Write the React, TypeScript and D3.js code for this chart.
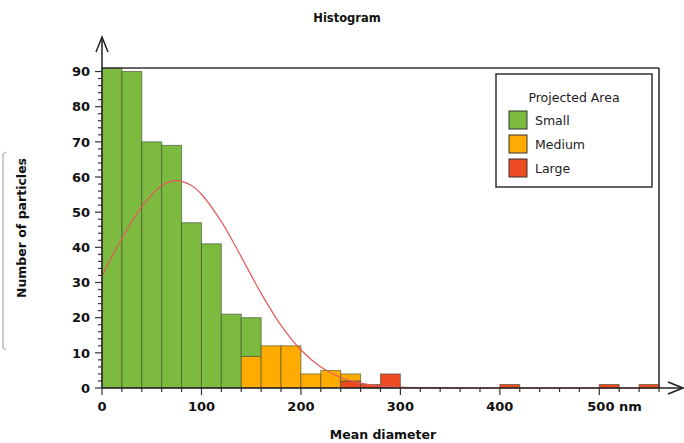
import { useEffect, useRef } from "react";
import * as d3 from "d3";

// bins of 20 nm, start values
const BIN_STARTS = d3.range(0, 560, 20);
const SMALL  = [91, 90, 70, 69, 47, 41, 21, 11, 0, 0, 0, 0, 0, 0, 0, 0, 0, 0, 0, 0, 0, 0, 0, 0, 0, 0, 0, 0];
const MEDIUM = [0, 0, 0, 0, 0, 0, 0, 9, 12, 12, 4, 5, 2, 0, 0, 0, 0, 0, 0, 0, 0, 0, 0, 0, 0, 0, 0, 0];
const LARGE  = [0, 0, 0, 0, 0, 0, 0, 0, 0, 0, 0, 0, 2, 1, 4, 0, 0, 0, 0, 0, 1, 0, 0, 0, 0, 1, 0, 1];

// fitted curve
const CURVE_X = [0, 20, 40, 60, 75, 90, 100, 120, 140, 160, 180, 200, 220, 240, 260, 280, 300, 320, 340, 370, 420, 480, 560];
const CURVE_Y = [32, 42.5, 51.6, 57.6, 59, 57.6, 55.1, 47.3, 37.3, 26.9, 17.8, 10.8, 6.0, 3.0, 1.4, 0.6, 0.24, 0.08, 0.03, 0, 0, 0, 0];

const X_TICKS = [0, 100, 200, 300, 400, 500];
const X_LABELS = ["0", "100", "200", "300", "400", "500 nm"];
const Y_TICKS = [0, 10, 20, 30, 40, 50, 60, 70, 80, 90];

const SERIES = [
  { name: "Small", color: "#7cba40" },
  { name: "Medium", color: "#ffab00" },
  { name: "Large", color: "#ee4b22" },
];

const FONT = "'DejaVu Sans', Verdana, sans-serif";

export default function App() {
  const svgRef = useRef<SVGSVGElement>(null);

  useEffect(() => {
    document.body.style.margin = "0";
    if (!svgRef.current) return;
    const W = 684, H = 443;
    const svg = d3.select(svgRef.current).attr("width", W).attr("height", H);
    svg.selectAll("*").remove();

    const x = d3.scaleLinear().domain([0, 560]).range([102, 659]);
    const y = d3.scaleLinear().domain([0, 91]).range([388, 68]);

    svg.append("rect").attr("width", W).attr("height", H).attr("fill", "white");

    // bars: large bottom, medium, small on top
    const stacks = [
      { vals: LARGE, color: SERIES[2].color },
      { vals: MEDIUM, color: SERIES[1].color },
      { vals: SMALL, color: SERIES[0].color },
    ];
    BIN_STARTS.forEach((b, i) => {
      let cum = 0;
      stacks.forEach(s => {
        const v = s.vals[i];
        if (v <= 0) return;
        svg.append("rect")
          .attr("x", x(b)).attr("width", x(b + 20) - x(b))
          .attr("y", y(cum + v)).attr("height", y(cum) - y(cum + v))
          .attr("fill", s.color).attr("stroke", "#3c4a30").attr("stroke-opacity", 0.6).attr("stroke-width", 1);
        cum += v;
      });
    });

    // curve
    const line = d3.line<number>().x((_, i) => x(CURVE_X[i])).y(d => y(Math.max(0, d))).curve(d3.curveCatmullRom.alpha(0.5));
    svg.append("path").attr("d", line(CURVE_Y)!).attr("fill", "none").attr("stroke", "#e25a5a").attr("stroke-width", 1.2);

    // frame
    svg.append("line").attr("x1", x(0)).attr("x2", x(560)).attr("y1", 68).attr("y2", 68).attr("stroke", "#333").attr("stroke-width", 1.6);
    svg.append("line").attr("x1", x(560)).attr("x2", x(560)).attr("y1", 68).attr("y2", 388).attr("stroke", "#333").attr("stroke-width", 1.6);

    // axes
    svg.append("line").attr("x1", 102).attr("x2", 102).attr("y1", 388).attr("y2", 37).attr("stroke", "#222").attr("stroke-width", 1.5);
    svg.append("path").attr("d", "M96,52 L102,37 L108,52").attr("fill", "none").attr("stroke", "#222").attr("stroke-width", 1.5);
    svg.append("line").attr("x1", 102).attr("x2", 683).attr("y1", 388).attr("y2", 388).attr("stroke", "#222").attr("stroke-width", 1.5);
    svg.append("path").attr("d", "M668,382 L683,388 L668,394").attr("fill", "none").attr("stroke", "#222").attr("stroke-width", 1.5);

    // y ticks
    d3.range(0, 92, 2).forEach(v => {
      const major = v % 10 === 0;
      svg.append("line").attr("x1", 102 - (major ? 7 : 4)).attr("x2", 102).attr("y1", y(v)).attr("y2", y(v))
        .attr("stroke", "#333").attr("stroke-width", 1.2);
    });
    Y_TICKS.forEach(v => {
      svg.append("text").attr("x", 90).attr("y", y(v)).attr("dy", "0.36em").attr("text-anchor", "end")
        .attr("font-family", FONT).attr("font-weight", "bold").attr("font-size", 13).attr("fill", "#111").text(v);
    });

    // x ticks
    d3.range(0, 561, 20).forEach(v => {
      const major = v % 100 === 0;
      svg.append("line").attr("x1", x(v)).attr("x2", x(v)).attr("y1", 388).attr("y2", 388 + (major ? 7 : 4))
        .attr("stroke", "#333").attr("stroke-width", 1.2);
    });
    X_TICKS.forEach((v, i) => {
      const last = i === X_TICKS.length - 1;
      svg.append("text").attr("x", x(v)).attr("y", 411).attr("text-anchor", last ? "start" : "middle")
        .attr("dx", last ? -12 : 0)
        .attr("font-family", FONT).attr("font-weight", "bold").attr("font-size", 13).attr("fill", "#111").text(X_LABELS[i]);
    });

    // titles
    svg.append("text").attr("x", 347).attr("y", 22).attr("text-anchor", "middle")
      .attr("font-family", FONT).attr("font-weight", "bold").attr("font-size", 11.5).attr("fill", "#111").text("Histogram");
    svg.append("text").attr("x", 383).attr("y", 439).attr("text-anchor", "middle")
      .attr("font-family", FONT).attr("font-weight", "bold").attr("font-size", 12.5).attr("fill", "#111").text("Mean diameter");
    svg.append("text").attr("transform", "translate(26,228) rotate(-90)").attr("text-anchor", "middle")
      .attr("font-family", FONT).attr("font-weight", "bold").attr("font-size", 12.5).attr("fill", "#111").text("Number of particles");
    svg.append("path").attr("d", "M6,152 L3,154 L3,348 L6,350").attr("fill", "none").attr("stroke", "#999").attr("stroke-width", 1);

    // legend
    const lg = svg.append("g").attr("transform", "translate(496,74)");
    lg.append("rect").attr("width", 156).attr("height", 113).attr("fill", "white").attr("stroke", "#333").attr("stroke-width", 1.5);
    lg.append("text").attr("x", 78).attr("y", 28).attr("text-anchor", "middle")
      .attr("font-family", FONT).attr("font-size", 12.5).attr("fill", "#222").text("Projected Area");
    SERIES.forEach((s, i) => {
      lg.append("rect").attr("x", 13).attr("y", 37 + i * 24).attr("width", 18).attr("height", 18)
        .attr("fill", s.color).attr("stroke", "#333").attr("stroke-width", 1);
      lg.append("text").attr("x", 39).attr("y", 46 + i * 24).attr("dy", "0.36em")
        .attr("font-family", FONT).attr("font-size", 12.5).attr("fill", "#222").text(s.name);
    });
  }, []);

  return <svg ref={svgRef} style={{ display: "block" }} />;
}
